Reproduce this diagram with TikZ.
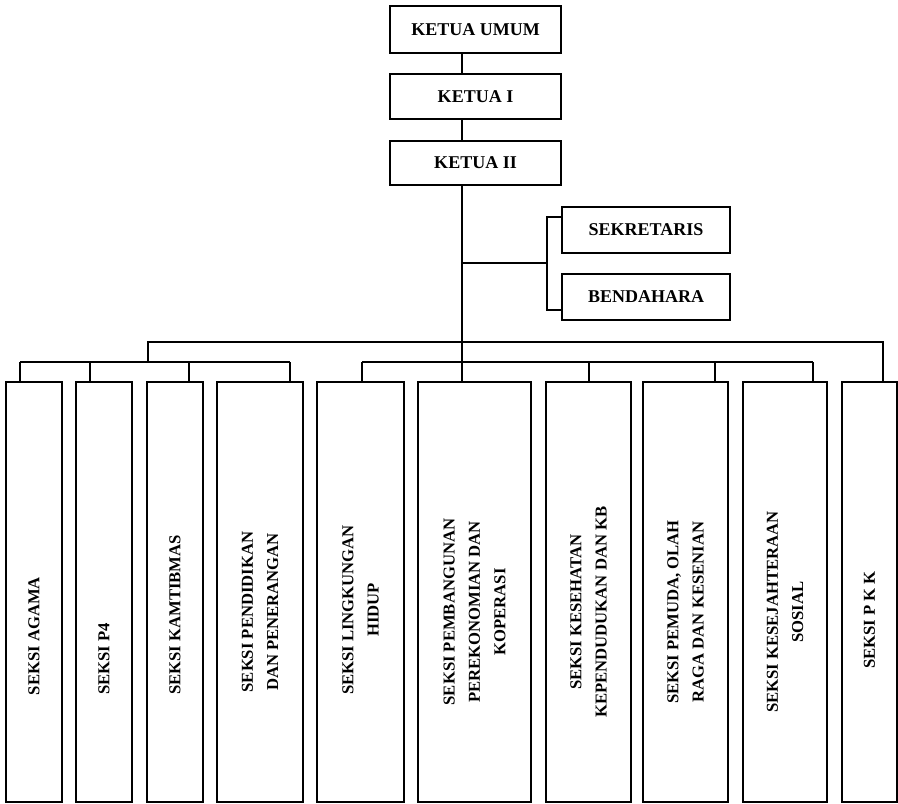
\documentclass[tikz,border=0pt]{standalone}
\usepackage{fontspec}
\setmainfont{Liberation Serif}
\usetikzlibrary{fit}

\tikzset{
  garis/.style={line width=1.1pt},
  kotak/.style={draw, garis, inner sep=0pt},
  jabatan/.style={inner sep=0pt, font=\bfseries\fontsize{13.5}{16}\selectfont},
  namaseksi/.style={rotate=90, align=center, inner sep=0pt, font=\bfseries\fontsize{12.5}{19}\selectfont}
}

\begin{document}
\begin{tikzpicture}[x=0.75pt, y=-0.75pt]
\useasboundingbox (0,0) rectangle (898,803);

% ketua
\foreach \n/\t/\a/\b in {ku/KETUA UMUM/6/53, ka/KETUA I/74/119, kb/KETUA II/141/185}{
  \node[kotak, fit={(390,\a) (561,\b)}] (\n) {};
  \node[jabatan] (t\n) at (\n.center) {\t};
}
% sekretaris, bendahara
\node[kotak, fit={(562,207) (730,253)}] (sek) {};
\node[jabatan] (tsek) at (sek.center) {SEKRETARIS};
\node[kotak, fit={(562,274) (730,320)}] (ben) {};
\node[jabatan] (tben) at (ben.center) {BENDAHARA};

% seksi-seksi
\foreach \n/\l/\r/\ty/\t in
  {s1/6/62/636/SEKSI AGAMA,
   s2/76/132/659/SEKSI P4,
   s3/147/203/615/SEKSI KAMTIBMAS,
   s4/217/303/612/{SEKSI PENDIDIKAN\\DAN PENERANGAN},
   s5/317/404/610/{SEKSI LINGKUNGAN\\HIDUP},
   s6/418/531/612/{SEKSI PEMBANGUNAN\\PEREKONOMIAN DAN\\KOPERASI},
   s7/546/631/612/{SEKSI KESEHATAN\\KEPENDUDUKAN DAN KB},
   s8/643/728/612/{SEKSI PEMUDA, OLAH\\RAGA DAN KESENIAN},
   s9/743/827/612/{SEKSI KESEJAHTERAAN\\SOSIAL},
   s10/842/897/620/SEKSI P K K}{
  \node[kotak, fit={(\l,382) (\r,802)}] (\n) {};
  \node[namaseksi] (t\n) at (\n.center |- 0,\ty) {\t};
}

% garis induk
\coordinate (pusat) at (462,0);
\draw[garis] (ku.south -| pusat) -- (ka.north -| pusat);
\draw[garis] (ka.south -| pusat) -- (kb.north -| pusat);
\draw[garis] (kb.south -| pusat) -- (s6.north -| pusat);

% cabang sekretaris/bendahara
\coordinate (cab) at (547,263);
\draw[garis] (pusat |- cab) -- (cab);
\draw[garis] (sek.west |- 0,217) -| (cab) |- (ben.west |- 0,310);

% garis seksi
\coordinate (bus) at (148,342);
\coordinate (kiri) at (148,362);
\draw[garis] (kiri) -- (bus) -- (883,342) -- (s10.north -| 883,0);
\draw[garis] (20,362) -- (290,362);
\draw[garis] (362,362) -- (813,362);
\foreach \x/\s in {20/s1, 90/s2, 189/s3, 290/s4, 362/s5, 589/s7, 715/s8, 813/s9}{
  \draw[garis] (\x,362) -- (\s.north -| \x,0);
}
\end{tikzpicture}
\end{document}
